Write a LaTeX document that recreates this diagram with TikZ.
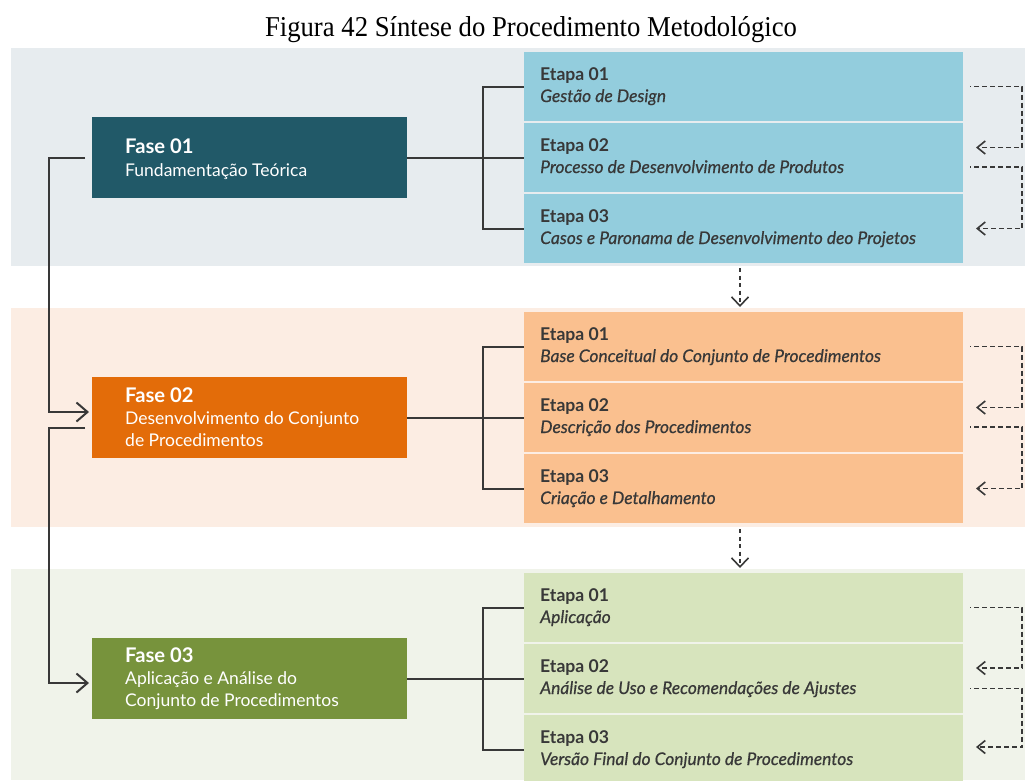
\documentclass[tikz,border=0pt]{standalone}
\usepackage{graphicx}
\usepackage{fontspec}
\setmainfont{Lato}
\newfontfamily\captionserif{Liberation Serif}
\newfontfamily\stepitalic[FakeBold=0.6]{Lato}
\usetikzlibrary{arrows.meta}

% palette
\definecolor{bandA}{HTML}{E7ECEF}
\definecolor{bandB}{HTML}{FCEDE3}
\definecolor{bandC}{HTML}{F0F3EA}
\definecolor{faseA}{HTML}{215968}
\definecolor{faseB}{HTML}{E36C09}
\definecolor{faseC}{HTML}{77933C}
\definecolor{etapaA}{HTML}{93CDDD}
\definecolor{etapaB}{HTML}{FAC08F}
\definecolor{etapaC}{HTML}{D7E4BD}
\definecolor{ink}{HTML}{383838}

% one step box with its two text lines: name, y of centre, fill, heading, description
\newcommand\etapanode[5]{%
  \node[etapabox, fill=#3] (#1) at (743.5,#2) {};
  \node[etapahead] (#1h) at (540,#2-6) {#4};
  \node[etapasub] (#1s) at (540,#2+15.5) {#5};}

\begin{document}
\begin{tikzpicture}[x=1pt,y=-1pt,
  fasebox/.style={minimum width=315pt, minimum height=81pt, inner sep=0pt, draw=none},
  etapabox/.style={minimum width=439pt, minimum height=69pt, inner sep=0pt, draw=none},
  txt/.style={inner sep=0pt, anchor=base west},
  fasehead/.style={txt, text=white, font=\fontsize{20.2}{22}\selectfont\bfseries},
  fasesub/.style={txt, text=white, font=\fontsize{17.5}{22}\selectfont},
  etapahead/.style={txt, text=ink, font=\fontsize{17.6}{20}\selectfont\bfseries},
  etapasub/.style={txt, text=ink, font=\stepitalic\fontsize{17.4}{20}\selectfont\itshape},
  link/.style={draw=ink, line width=2pt},
  linkarrow/.style={link, -{Straight Barb[length=11pt,width=19pt]}},
  feedback/.style={draw=ink, line width=1.6pt, dash pattern=on 5pt off 3pt, dash phase=4pt,
    -{Straight Barb[length=8pt,width=13pt]}},
  handover/.style={draw=ink, line width=1.6pt, dash pattern=on 4pt off 3.5pt,
    -{Straight Barb[length=9pt,width=17pt]}}]

\useasboundingbox (0,0) rectangle (1025,780);

% caption
\node[inner sep=0pt, anchor=base] (title) at (531,36)
  {\resizebox{532pt}{20pt}{\captionserif\fontsize{29}{29}\selectfont Figura 42 Síntese do Procedimento Metodológico}};

% background bands
\fill[bandA] (11,48) rectangle (1025,266);
\fill[bandB] (11,308) rectangle (1025,527);
\fill[bandC] (11,569) rectangle (1025,780);

% phases
\node[fasebox, fill=faseA] (f1) at (249.5,157.5) {};
\node[fasehead] (f1a) at (125,153) {Fase 01};
\node[fasesub] (f1b) at (125,176) {Fundamentação Teórica};

\node[fasebox, fill=faseB] (f2) at (249.5,417.5) {};
\node[fasehead] (f2a) at (125,402) {Fase 02};
\node[fasesub] (f2b) at (125,424) {Desenvolvimento do Conjunto};
\node[fasesub] (f2c) at (125,446) {de Procedimentos};

\node[fasebox, fill=faseC] (f3) at (249.5,678.5) {};
\node[fasehead] (f3a) at (125,662.5) {Fase 03};
\node[fasesub] (f3b) at (125,684.5) {Aplicação e Análise do};
\node[fasesub] (f3c) at (125,706.5) {Conjunto de Procedimentos};

% steps
\etapanode{e11}{86.5}{etapaA}{Etapa 01}{Gestão de Design}
\etapanode{e12}{157.5}{etapaA}{Etapa 02}{Processo de Desenvolvimento de Produtos}
\etapanode{e13}{228.5}{etapaA}{Etapa 03}{Casos e Paronama de Desenvolvimento deo Projetos}

\etapanode{e21}{346.5}{etapaB}{Etapa 01}{Base Conceitual do Conjunto de Procedimentos}
\etapanode{e22}{417.5}{etapaB}{Etapa 02}{Descrição dos Procedimentos}
\etapanode{e23}{488.5}{etapaB}{Etapa 03}{Criação e Detalhamento}

\etapanode{e31}{607.5}{etapaC}{Etapa 01}{Aplicação}
\etapanode{e32}{678.5}{etapaC}{Etapa 02}{Análise de Uso e Recomendações de Ajustes}
\etapanode{e33}{749.5}{etapaC}{Etapa 03}{Versão Final do Conjunto de Procedimentos}

% phase-to-step brackets
\coordinate (k1) at (483,157.5);
\coordinate (k2) at (483,417.5);
\coordinate (k3) at (483,678.5);
\draw[link] (f1.east) -- (e12.west);
\draw[link] (e11.west) -| (k1) |- (e13.west);
\draw[link] (f2.east) -- (e22.west);
\draw[link] (e21.west) -| (k2) |- (e23.west);
\draw[link] (f3.east) -- (e32.west);
\draw[link] (e31.west) -| (k3) |- (e33.west);

% phase sequence on the left
\coordinate (s1) at (85,157.5);
\coordinate (t1) at (89,412);
\coordinate (s2) at (85,428);
\coordinate (t2) at (89,683);
\draw[linkarrow] (s1) -- (49,157.5) |- (t1);
\draw[linkarrow] (s2) -- (49,428) |- (t2);

% feedback loops between steps
\coordinate (r11) at (970,86.5);  \coordinate (q11) at (976,147.5);
\coordinate (r12) at (970,167);   \coordinate (q12) at (976,228.5);
\coordinate (r21) at (970,346.5); \coordinate (q21) at (976,407.5);
\coordinate (r22) at (970,427);   \coordinate (q22) at (976,488.5);
\coordinate (r31) at (970,607.5); \coordinate (q31) at (976,668);
\coordinate (r32) at (970,688.5); \coordinate (q32) at (976,747);
\draw[feedback] (r11) -| (1022,147.5) -- (q11);
\draw[feedback] (r12) -| (1022,228.5) -- (q12);
\draw[feedback] (r21) -| (1022,407.5) -- (q21);
\draw[feedback] (r22) -| (1022,488.5) -- (q22);
\draw[feedback] (r31) -| (1022,668) -- (q31);
\draw[feedback] (r32) -| (1022,747) -- (q32);

% hand-over between phases
\coordinate (d1) at (740,268);
\coordinate (d2) at (740,307);
\coordinate (d3) at (740,529);
\coordinate (d4) at (740,568);
\draw[handover] (d1) -- (d2);
\draw[handover] (d3) -- (d4);
\end{tikzpicture}
\end{document}
